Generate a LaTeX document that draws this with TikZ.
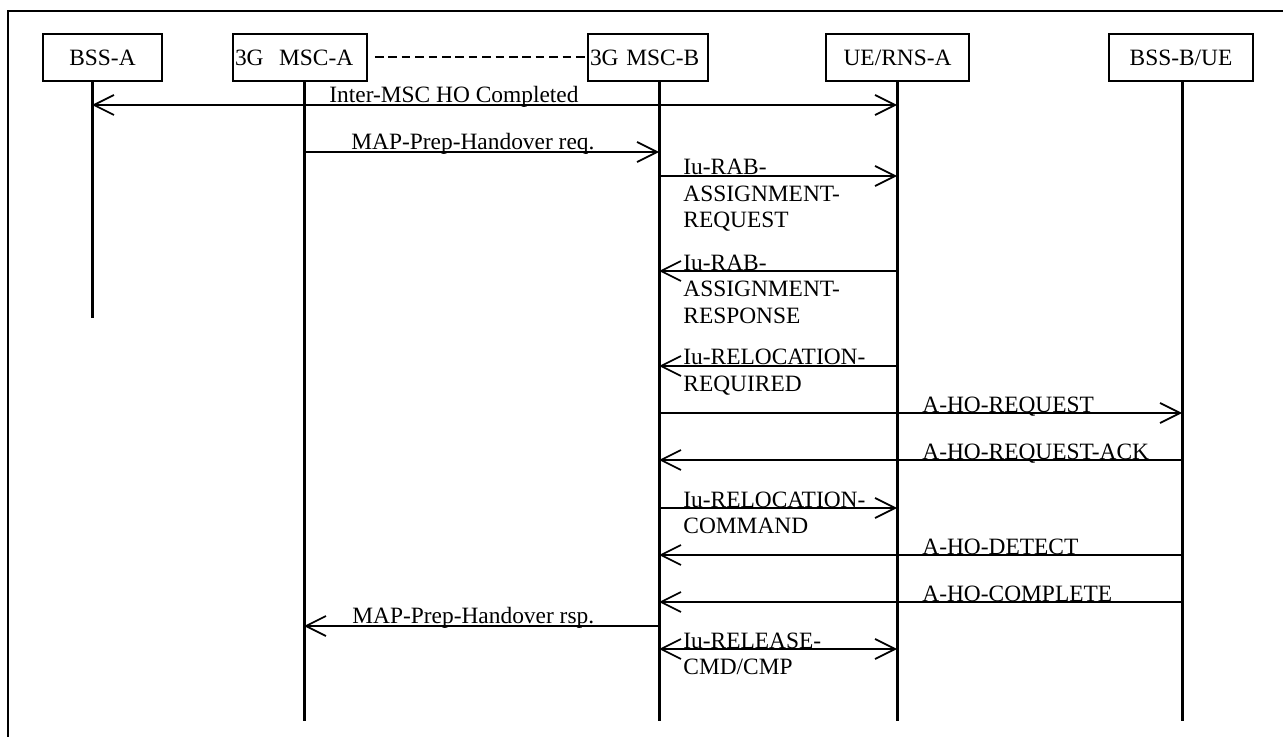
\documentclass[tikz,border=0pt]{standalone}
\usepackage{fontspec}
\setmainfont{Liberation Serif}
\usetikzlibrary{arrows.meta,positioning}

\newcommand{\sigfont}{\fontsize{11.7pt}{13.25pt}\selectfont}

\tikzset{
  ent/.style={draw, line width=0.9pt, minimum height=23.5pt, inner sep=0pt, text height=7.7pt, text depth=0pt, font=\sigfont},
  entleft/.style={ent, align=left, inner xsep=1pt},
  life/.style={line width=1.5pt},
  msg/.style={line width=0.85pt, ->},
  msgboth/.style={line width=0.85pt, <->},
  lbl/.style={font=\sigfont, inner sep=0pt, anchor=base west, align=left},
  assoc/.style={line width=1pt, dash pattern=on 4.3pt off 2.4pt},
}

\begin{document}
\begin{tikzpicture}[x=0.5pt, y=-0.5pt, >={Straight Barb[length=10pt,width=10pt]}]
  \useasboundingbox (0,0) rectangle (1283,737);
  \draw[line width=1pt] (8,737) -- (8,11) -- (1283,11);

  %% Entities
  \node[ent, minimum width=59.5pt] (e_bssa) at (102.5,57.5) {BSS-A};
  \node[entleft, text width=65pt]  (e_msca) at (300,57.5)   {3G\ \ MSC-A};
  \node[entleft, text width=58pt]  (e_mscb) at (648,57.5)   {3G MSC-B};
  \node[ent, minimum width=71.5pt] (e_ue)   at (897.5,57.5) {UE/RNS-A};
  \node[ent, minimum width=72pt]   (e_bssb) at (1181,57.5)  {BSS-B/UE};
  \draw[assoc] ([xshift=3.5pt]e_msca.east) -- (e_mscb.west);

  %% Lifelines
  \coordinate (l_bssa) at (92,81);
  \coordinate (l_msca) at (304,81);
  \coordinate (l_mscb) at (659,81);
  \coordinate (l_ue)   at (897,81);
  \coordinate (l_bssb) at (1182,81);
  \coordinate (l_short) at (0,318);
  \coordinate (l_end)   at (0,721);
  \draw[life] (l_bssa) -- (l_bssa |- l_short);
  \draw[life] (l_msca) -- (l_msca |- l_end);
  \draw[life] (l_mscb) -- (l_mscb |- l_end);
  \draw[life] (l_ue)   -- (l_ue |- l_end);
  \draw[life] (l_bssb) -- (l_bssb |- l_end);

  %% Message rows
  \coordinate (m1)  at (0,105);
  \coordinate (m2)  at (0,152);
  \coordinate (m3)  at (0,176);
  \coordinate (m4)  at (0,271);
  \coordinate (m5)  at (0,366);
  \coordinate (m6)  at (0,413);
  \coordinate (m7)  at (0,460);
  \coordinate (m8)  at (0,508);
  \coordinate (m9)  at (0,555);
  \coordinate (m10) at (0,602);
  \coordinate (m11) at (0,626);
  \coordinate (m12) at (0,649);

  %% Messages (multi-line labels sit on their last baseline)
  \draw[msgboth] (l_bssa |- m1) -- (l_ue |- m1);
  \node[lbl] (t1) at (329,103) {Inter-MSC HO Completed};
  \draw[msg] (l_msca |- m2) -- (l_mscb |- m2);
  \node[lbl] (t2) at (351,150) {MAP-Prep-Handover req.};
  \draw[msg] (l_mscb |- m3) -- (l_ue |- m3);
  \node[lbl] (t3) at (683,228) {Iu-RAB-\\ASSIGNMENT-\\REQUEST};
  \draw[msg] (l_ue |- m4) -- (l_mscb |- m4);
  \node[lbl] (t4) at (683,323) {Iu-RAB-\\ASSIGNMENT-\\RESPONSE};
  \draw[msg] (l_ue |- m5) -- (l_mscb |- m5);
  \node[lbl] (t5) at (683,391.5) {Iu-RELOCATION-\\REQUIRED};
  \draw[msg] (l_mscb |- m6) -- (l_bssb |- m6);
  \node[lbl] (t6) at (922,412) {A-HO-REQUEST};
  \draw[msg] (l_bssb |- m7) -- (l_mscb |- m7);
  \node[lbl] (t7) at (922,459) {A-HO-REQUEST-ACK};
  \draw[msg] (l_mscb |- m8) -- (l_ue |- m8);
  \node[lbl] (t8) at (683,533.5) {Iu-RELOCATION-\\COMMAND};
  \draw[msg] (l_bssb |- m9) -- (l_mscb |- m9);
  \node[lbl] (t9) at (922,554) {A-HO-DETECT};
  \draw[msg] (l_bssb |- m10) -- (l_mscb |- m10);
  \node[lbl] (t10) at (922,601) {A-HO-COMPLETE};
  \draw[msg] (l_mscb |- m11) -- (l_msca |- m11);
  \node[lbl] (t11) at (352,623) {MAP-Prep-Handover rsp.};
  \draw[msgboth] (l_mscb |- m12) -- (l_ue |- m12);
  \node[lbl] (t12) at (683,674.5) {Iu-RELEASE-\\CMD/CMP};
\end{tikzpicture}
\end{document}
